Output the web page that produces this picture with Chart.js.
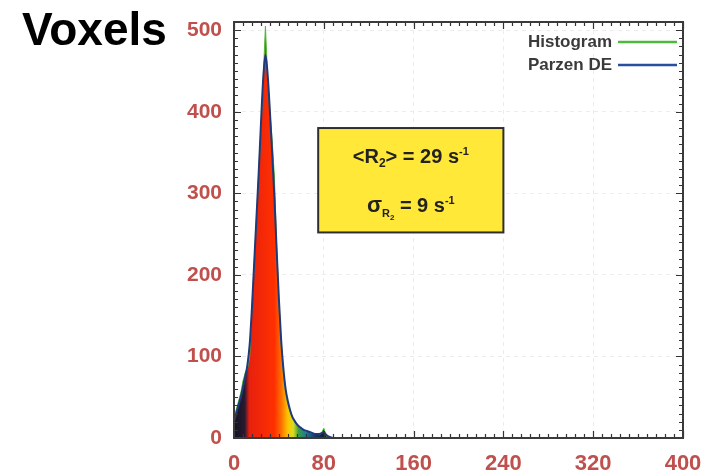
<!DOCTYPE html>
<html>
<head>
<meta charset="utf-8">
<script src="https://cdn.jsdelivr.net/npm/chart.js@4"></script>
<style>
  html, body { margin: 0; padding: 0; background: #fff; }
  #wrap { width: 711px; height: 472px; }
</style>
</head>
<body>
<div id="wrap"><canvas id="voxelChart" width="711" height="472"></canvas></div>
<script>
// R2 relaxation rate bins (s^-1) and voxel counts
var binCenters = [0, 2, 4, 6, 8, 10, 12, 14, 16, 18, 20, 22, 24, 26, 28, 30, 32, 34, 36, 38,
                  40, 42, 44, 46, 48, 50, 52, 54, 56, 58, 60, 62, 64, 66, 68, 70, 72, 74, 76, 78,
                  80, 82, 84, 86, 88, 400];
var histogramCounts = [25, 35, 45, 55, 70, 80, 85, 100, 160, 215, 270, 325, 380, 440, 505, 440, 400, 365, 320, 235,
                       170, 115, 80, 55, 42, 32, 25, 20, 16, 14, 12, 10, 8, 8, 6, 6, 5, 5, 4, 6,
                       12, 3, 0, 0, 0, 0];
var parzenCounts = [20, 30, 40, 50, 62, 75, 90, 115, 160, 215, 270, 325, 385, 440, 470, 445, 400, 350, 295, 230,
                    170, 120, 85, 60, 45, 34, 26, 21, 17, 14, 12, 10, 9, 8, 7, 6, 5, 5, 5, 6,
                    7, 4, 2, 1, 0, 0];
var xTicks = [0, 80, 160, 240, 320, 400];
var yTicks = [0, 100, 200, 300, 400, 500];
var seriesNames = ['Histogram', 'Parzen DE'];
var meanR2 = 29, sigmaR2 = 9;

var labelRed = '#c0504d';

function toPoints(ys) {
    return binCenters.map(function (x, i) { return { x: x, y: ys[i] }; });
}

function rainbowFill(context) {
    var chart = context.chart;
    var area = chart.chartArea;
    if (!area) return '#ff3300';
    var xs = chart.scales.x;
    var x0 = xs.getPixelForValue(0), x1 = xs.getPixelForValue(80);
    var g = chart.ctx.createLinearGradient(x0, 0, x1, 0);
    g.addColorStop(0.00, '#111122');
    g.addColorStop(0.12, '#2a1a30');
    g.addColorStop(0.17, '#e8200e');
    g.addColorStop(0.45, '#ff3000');
    g.addColorStop(0.52, '#ff6a00');
    g.addColorStop(0.60, '#ffc400');
    g.addColorStop(0.66, '#d8dc20');
    g.addColorStop(0.72, '#3c9c40');
    g.addColorStop(0.80, '#1d7c98');
    g.addColorStop(0.90, '#163a66');
    g.addColorStop(1.00, '#101c3a');
    return g;
}

function drawRich(ctx, parts, cx, y) {
    var total = 0;
    parts.forEach(function (p) {
        ctx.font = 'bold ' + p.s + 'px "Liberation Sans", Arial, sans-serif';
        p.w = ctx.measureText(p.t).width;
        total += p.w;
    });
    var x = cx - total / 2;
    parts.forEach(function (p) {
        ctx.font = 'bold ' + p.s + 'px "Liberation Sans", Arial, sans-serif';
        ctx.fillText(p.t, x, y + (p.dy || 0));
        x += p.w;
    });
}

var framePlugin = {
    id: 'frameAndNotes',
    afterDatasetsDraw: function (chart) {
        var ctx = chart.ctx, a = chart.chartArea;
        var xs = chart.scales.x, ys = chart.scales.y;
        ctx.save();

        // minor / major ticks pointing inward
        ctx.strokeStyle = '#333';
        ctx.lineWidth = 1.2;
        ctx.beginPath();
        for (var v = 0; v <= 400; v += 8) {
            var px = Math.round(xs.getPixelForValue(v)) + 0.5;
            var len = (v % 80 === 0) ? 7 : 4;
            ctx.moveTo(px, a.bottom); ctx.lineTo(px, a.bottom - len);
            ctx.moveTo(px, a.top); ctx.lineTo(px, a.top + len);
        }
        for (var w = 0; w <= 510; w += 10) {
            var py = Math.round(ys.getPixelForValue(w)) + 0.5;
            var l2 = (w % 100 === 0) ? 7 : 4;
            ctx.moveTo(a.left, py); ctx.lineTo(a.left + l2, py);
            ctx.moveTo(a.right, py); ctx.lineTo(a.right - l2, py);
        }
        ctx.stroke();

        // frame
        ctx.strokeStyle = '#3a3a3a';
        ctx.lineWidth = 2;
        ctx.strokeRect(a.left, a.top, a.right - a.left, a.bottom - a.top);

        // legend, top right inside the plot
        ctx.font = 'bold 17px "Liberation Sans", Arial, sans-serif';
        ctx.fillStyle = '#3a3a3a';
        ctx.textAlign = 'right';
        ctx.textBaseline = 'middle';
        var colors = ['#4cbb3c', '#2a4f9e'];
        seriesNames.forEach(function (name, i) {
            var ly = a.top + 20 + i * 23;
            ctx.fillText(name, a.right - 71, ly);
            ctx.strokeStyle = colors[i];
            ctx.lineWidth = 2.5;
            ctx.beginPath();
            ctx.moveTo(a.right - 65, ly);
            ctx.lineTo(a.right - 6, ly);
            ctx.stroke();
        });

        // yellow statistics box
        var bx0 = xs.getPixelForValue(75), bx1 = xs.getPixelForValue(240);
        var by0 = ys.getPixelForValue(380), by1 = ys.getPixelForValue(252);
        ctx.fillStyle = '#ffe838';
        ctx.fillRect(bx0, by0, bx1 - bx0, by1 - by0);
        ctx.strokeStyle = '#2e2e2e';
        ctx.lineWidth = 2;
        ctx.strokeRect(bx0, by0, bx1 - bx0, by1 - by0);
        ctx.fillStyle = '#222';
        ctx.textAlign = 'left';
        ctx.textBaseline = 'alphabetic';
        var cx = (bx0 + bx1) / 2;
        drawRich(ctx, [
            { t: '<R', s: 20 }, { t: '2', s: 12, dy: 4 },
            { t: '> = ' + meanR2 + ' s', s: 20 }, { t: '-1', s: 11, dy: -8 }
        ], cx, by0 + 35);
        drawRich(ctx, [
            { t: 'σ', s: 22 }, { t: 'R', s: 11, dy: 5 }, { t: '2', s: 8, dy: 8 },
            { t: ' = ' + sigmaR2 + ' s', s: 20 }, { t: '-1', s: 11, dy: -8 }
        ], cx, by0 + 84);

        // axis title at top left
        ctx.font = 'bold 46px "Liberation Sans", Arial, sans-serif';
        ctx.fillStyle = '#000';
        ctx.fillText('Voxels', 22, 45);
        ctx.restore();
    }
};

var ctx = document.getElementById('voxelChart').getContext('2d');
new Chart(ctx, {
    type: 'line',
    data: {
        datasets: [{
            label: seriesNames[0],
            data: toPoints(histogramCounts),
            borderColor: '#4cbb3c',
            borderWidth: 1,
            backgroundColor: rainbowFill,
            fill: 'origin',
            pointRadius: 0,
            tension: 0,
            order: 2
        }, {
            label: seriesNames[1],
            data: toPoints(parzenCounts),
            borderColor: '#1f3a7a',
            borderWidth: 2,
            fill: false,
            pointRadius: 0,
            cubicInterpolationMode: 'monotone',
            order: 1
        }]
    },
    options: {
        responsive: false,
        animation: false,
        layout: { padding: { top: 22, right: 28, left: 0, bottom: 0 } },
        plugins: {
            legend: { display: false },
            tooltip: { enabled: false }
        },
        scales: {
            x: {
                type: 'linear',
                min: 0,
                max: 400,
                afterBuildTicks: function (scale) {
                    scale.ticks = xTicks.map(function (v) { return { value: v }; });
                },
                afterFit: function (scale) {
                    scale.height = 34;
                    scale.paddingLeft = 0;
                    scale.paddingRight = 0;
                },
                grid: { drawTicks: false, color: '#ececec', lineWidth: 1 },
                border: { display: false, dash: [4, 4] },
                ticks: {
                    padding: 13,
                    maxRotation: 0,
                    color: labelRed,
                    font: { family: '"Liberation Sans", Arial, sans-serif', size: 22, weight: 'bold' }
                }
            },
            y: {
                type: 'linear',
                min: 0,
                max: 510,
                afterBuildTicks: function (scale) {
                    scale.ticks = yTicks.map(function (v) { return { value: v }; });
                },
                afterFit: function (scale) {
                    scale.width = 234;
                    scale.paddingTop = 0;
                    scale.paddingBottom = 0;
                },
                grid: { drawTicks: false, color: '#ececec', lineWidth: 1 },
                border: { display: false, dash: [4, 4] },
                ticks: {
                    padding: 12,
                    color: labelRed,
                    font: { family: '"Liberation Sans", Arial, sans-serif', size: 21, weight: 'bold' }
                }
            }
        }
    },
    plugins: [framePlugin]
});
</script>
</body>
</html>
